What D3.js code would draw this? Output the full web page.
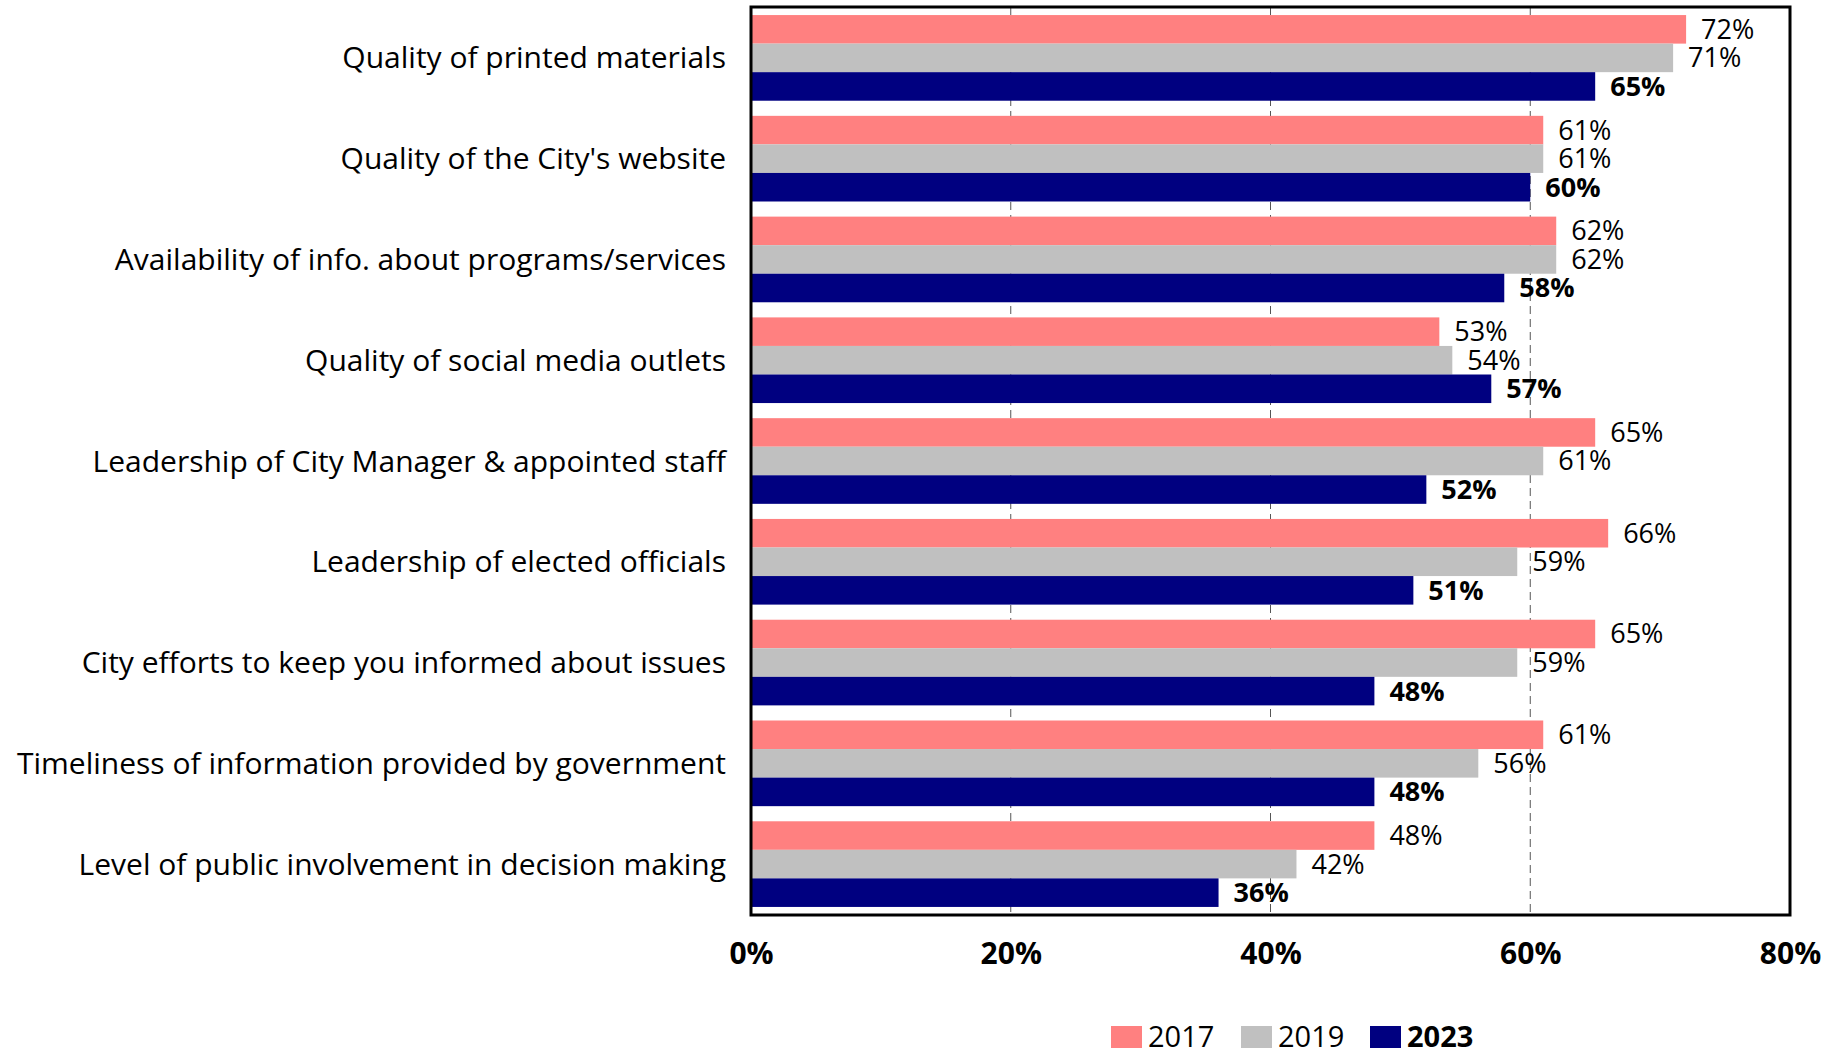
<!DOCTYPE html>
<html>
<head>
<meta charset="utf-8">
<script src="https://cdn.jsdelivr.net/npm/d3@7"></script>
<style>
  html, body { margin: 0; padding: 0; background: #fff; }
  svg { display: block; font-family: "Open Sans", "Liberation Sans", sans-serif; }
</style>
</head>
<body>
<svg id="chart" width="1841" height="1050"></svg>
<script>
// Survey items, top to bottom
const categories = [
  "Quality of printed materials",
  "Quality of the City's website",
  "Availability of info. about programs/services",
  "Quality of social media outlets",
  "Leadership of City Manager & appointed staff",
  "Leadership of elected officials",
  "City efforts to keep you informed about issues",
  "Timeliness of information provided by government",
  "Level of public involvement in decision making"
];

const years = ["2017", "2019", "2023"];

// Percent satisfied by year
const values2017 = [72, 61, 62, 53, 65, 66, 65, 61, 48];
const values2019 = [71, 61, 62, 54, 61, 59, 59, 56, 42];
const values2023 = [65, 60, 58, 57, 52, 51, 48, 48, 36];

const xTicks = [0, 20, 40, 60, 80];
const tickLabels = ["0%", "20%", "40%", "60%", "80%"];

const colors = ["#FF8080", "#C0C0C0", "#000080"];

const seriesValues = [values2017, values2019, values2023];

const svg = d3.select("#chart");
const plot = { left: 751, right: 1790, top: 7, bottom: 915 };

const x = d3.scaleLinear().domain([0, 80]).range([plot.left, plot.right]);
const y = d3.scaleBand().domain(categories).range([plot.top, plot.bottom])
  .paddingInner(0.15).paddingOuter(0.08);
const yInner = d3.scaleBand().domain(years).range([0, y.bandwidth()]);
const color = d3.scaleOrdinal().domain(years).range(colors);

// Dashed vertical gridlines
svg.append("g")
  .selectAll("line")
  .data(xTicks.filter(t => t > 0 && t < 80))
  .join("line")
  .attr("x1", d => x(d)).attr("x2", d => x(d))
  .attr("y1", plot.top).attr("y2", plot.bottom)
  .attr("stroke", "#555")
  .attr("stroke-width", 1)
  .attr("stroke-dasharray", "8,5");

// Bars
const rows = categories.map((c, i) => ({
  category: c,
  bars: years.map((yr, j) => ({ year: yr, value: seriesValues[j][i], idx: j }))
}));

const groups = svg.append("g")
  .selectAll("g")
  .data(rows)
  .join("g")
  .attr("transform", d => `translate(0,${y(d.category)})`);

groups.selectAll("rect")
  .data(d => d.bars)
  .join("rect")
  .attr("x", x(0))
  .attr("y", d => yInner(d.year))
  .attr("width", d => x(d.value) - x(0))
  .attr("height", yInner.bandwidth())
  .attr("fill", d => color(d.year));

// Value labels
groups.selectAll("text")
  .data(d => d.bars)
  .join("text")
  .attr("x", d => x(d.value) + 15)
  .attr("y", d => yInner(d.year) + yInner.bandwidth() / 2)
  .attr("dy", "0.35em")
  .attr("font-size", 27)
  .attr("font-weight", d => d.idx === 2 ? "bold" : "normal")
  .attr("fill", "#000")
  .text(d => d.value + "%");

// Category labels
svg.append("g")
  .selectAll("text")
  .data(categories)
  .join("text")
  .attr("x", 726)
  .attr("y", d => y(d) + y.bandwidth() / 2)
  .attr("dy", "0.35em")
  .attr("text-anchor", "end")
  .attr("font-size", 30)
  .attr("fill", "#000")
  .text(d => d);

// Plot frame
svg.append("rect")
  .attr("x", plot.left).attr("y", plot.top)
  .attr("width", plot.right - plot.left)
  .attr("height", plot.bottom - plot.top)
  .attr("fill", "none")
  .attr("stroke", "#000")
  .attr("stroke-width", 3);

// X axis labels
const xAxis = d3.axisBottom(x)
  .tickValues(xTicks)
  .tickFormat((d, i) => tickLabels[i])
  .tickSize(0)
  .tickPadding(28);

const axisG = svg.append("g")
  .attr("transform", `translate(0,${plot.bottom})`)
  .call(xAxis);
axisG.select(".domain").remove();
axisG.selectAll("text")
  .attr("font-family", "\"Open Sans\", sans-serif")
  .attr("font-size", 30)
  .attr("font-weight", "bold")
  .attr("fill", "#000");

// Legend
const legendX = [1111, 1241, 1370];
const legend = svg.append("g")
  .selectAll("g")
  .data(years)
  .join("g")
  .attr("transform", (d, i) => `translate(${legendX[i]},1026)`);
legend.append("rect")
  .attr("width", 31).attr("height", 22)
  .attr("fill", d => color(d));
legend.append("text")
  .attr("x", 37).attr("y", 21)
  .attr("font-size", 29)
  .attr("font-weight", (d, i) => i === 2 ? "bold" : "normal")
  .attr("fill", "#000")
  .text(d => d);
</script>
</body>
</html>
